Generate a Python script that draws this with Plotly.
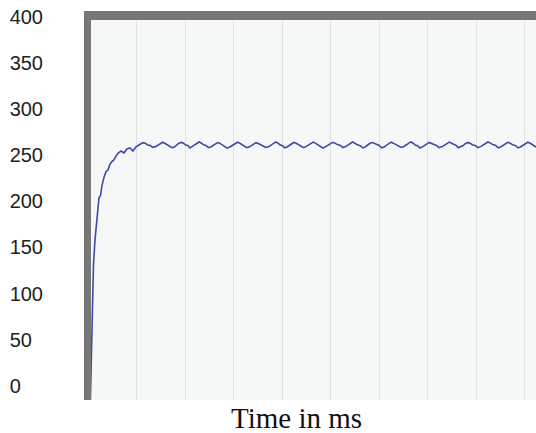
import plotly.graph_objects as go

# ---- data (time in ms, value) ----
rise_t = [0.5, 0.89, 1.13, 1.44, 1.79, 2.06, 2.27, 2.58, 2.88, 3.30, 3.71, 4.12, 4.53, 4.94,
          5.36, 5.77, 6.18, 6.80, 7.42, 8.03, 8.65, 9.27, 9.89, 10.5]
rise_v = [-15, 93, 131, 158, 180, 196, 204, 206, 217, 226, 232, 234, 240, 243,
          245, 249, 252, 254.5, 252.5, 256.7, 257.8, 254.5, 258.9, 261]

plateau_t = [11.3, 11.8, 12.3, 12.8, 13.3, 13.9, 14.4, 14.9,
             15.4, 15.9, 16.3, 16.8, 17.3, 17.8, 18.2, 18.7,
             19.2, 19.7, 20.1, 20.6, 21.0, 21.5, 21.9, 22.4,
             22.9, 23.4, 23.8, 24.3, 24.8, 25.3, 25.7, 26.2,
             26.7, 27.2, 27.7, 28.2, 28.7, 29.3, 29.8, 30.3,
             30.8, 31.3, 31.7, 32.2, 32.7, 33.2, 33.6, 34.1,
             34.6, 35.1, 35.6, 36.1, 36.6, 37.2, 37.7, 38.2,
             38.7, 39.2, 39.6, 40.1, 40.5, 41.0, 41.5, 42.0,
             42.4, 42.9, 43.4, 43.9, 44.4, 44.9, 45.4, 45.9,
             46.4, 46.9, 47.4, 47.9, 48.4, 48.9, 49.4, 49.9,
             50.4, 50.9, 51.4, 52.0, 52.5, 53.0, 53.5, 54.0,
             54.5, 55.0, 55.5, 56.1, 56.6, 57.1, 57.6, 58.1,
             58.6, 59.1, 59.5, 60.0, 60.5, 61.0, 61.4, 61.9,
             62.4, 62.9, 63.4, 64.0, 64.5, 65.0, 65.5, 66.0,
             66.5, 67.0, 67.4, 67.9, 68.4, 68.9, 69.3, 69.8,
             70.3, 70.8, 71.3, 71.8, 72.3, 72.9, 73.4, 73.9,
             74.4, 74.9, 75.4, 75.9, 76.3, 76.8, 77.3, 77.8,
             78.3, 78.8, 79.3, 79.8, 80.3, 80.9, 81.4, 81.9,
             82.4, 82.9, 83.4, 84.0, 84.5, 85.0, 85.5, 86.0,
             86.5, 87.0, 87.5, 88.1, 88.6, 89.1, 89.6, 90.1,
             90.6, 91.1, 91.6, 92.0, 92.4]
plateau_v = [263.5, 262.8, 261.0, 260.6, 258.5, 259.2, 261.0, 262.5,
             264.0, 262.6, 261.5, 260.2, 258.0, 258.8, 260.5, 262.9,
             263.8, 263.0, 261.0, 260.4, 257.8, 259.0, 260.8, 262.6,
             264.2, 262.9, 261.2, 260.5, 258.2, 258.9, 260.5, 262.4,
             263.6, 262.7, 261.0, 260.1, 257.6, 259.1, 260.8, 262.7,
             264.0, 262.9, 261.5, 260.4, 258.0, 258.7, 260.2, 262.3,
             263.5, 262.6, 261.2, 260.3, 258.3, 259.0, 260.7, 262.8,
             264.3, 262.8, 261.0, 260.2, 257.9, 258.8, 260.5, 262.5,
             263.7, 262.9, 261.3, 260.6, 258.1, 259.2, 260.9, 262.7,
             264.1, 262.7, 261.0, 260.1, 257.7, 258.9, 260.4, 262.4,
             263.9, 263.0, 261.4, 260.5, 258.2, 259.0, 260.6, 262.6,
             264.2, 262.8, 261.1, 260.3, 257.8, 258.8, 260.7, 262.8,
             263.6, 262.6, 261.2, 260.4, 258.0, 258.7, 260.3, 262.5,
             264.0, 263.0, 261.5, 260.6, 258.4, 259.1, 260.8, 262.7,
             264.3, 262.9, 261.0, 260.2, 257.7, 258.9, 260.5, 262.6,
             263.8, 262.7, 261.3, 260.5, 258.1, 259.0, 260.6, 262.4,
             264.1, 262.9, 261.2, 260.3, 257.9, 258.8, 260.4, 262.6,
             263.7, 262.6, 261.0, 260.4, 258.2, 259.2, 260.9, 262.8,
             264.2, 263.0, 261.4, 260.5, 258.0, 258.9, 260.5, 262.5,
             263.9, 262.8, 261.1, 260.3, 257.8, 258.8, 260.7, 262.6,
             264.0, 262.9, 261.2, 260.2, 258.5]

y_tick_vals = [0, 50, 100, 150, 200, 250, 300, 350, 400]
y_tick_text = ["0\u2007\u2007", "50\u2007", "100", "150", "200", "250", "300", "350", "400"]
x_grid_vals = [10, 20, 30, 40, 50, 60, 70, 80, 90]
x_title = "Time in ms"

t = rise_t + plateau_t
v = rise_v + plateau_v

fig = go.Figure()
fig.add_trace(go.Scatter(x=t, y=v, mode="lines",
                         line=dict(color="#3f49a8", width=1.6),
                         hoverinfo="skip", showlegend=False))

GRID = "#e1e3e3"
BORDER = "#777777"

fig.update_layout(
    width=536, height=433,
    margin=dict(l=84, r=0, t=11, b=33),
    paper_bgcolor="white",
    plot_bgcolor="#f6f8f8",
    xaxis=dict(range=[-0.82, 92.3], tickmode="array", tickvals=x_grid_vals,
               showgrid=True, gridcolor=GRID,
               gridwidth=1, zeroline=False, showline=False, showticklabels=False,
               ticks="", fixedrange=True),
    yaxis=dict(range=[-15.2, 406.1], tickvals=y_tick_vals, ticktext=y_tick_text,
               showgrid=False, zeroline=False, showline=False, ticks="",
               ticklabelstandoff=40, fixedrange=True,
               tickfont=dict(family="Liberation Sans, Arial", size=20, color="#222222")),
    yaxis2=dict(overlaying="y", range=[0.355, 8.198], tickmode="array",
                tickvals=[1, 2, 3, 4, 5, 6, 7], showgrid=True,
                gridcolor=GRID, gridwidth=1, zeroline=False, showticklabels=False,
                ticks="", side="left", fixedrange=True),
    shapes=[
        dict(type="rect", xref="paper", yref="paper", x0=0, x1=7/452, y0=0, y1=1,
             line=dict(width=0), fillcolor=BORDER, layer="above"),
        dict(type="rect", xref="paper", yref="paper", x0=0, x1=1, y0=1 - 9/389, y1=1,
             line=dict(width=0), fillcolor=BORDER, layer="above"),
    ],
    annotations=[
        dict(text=x_title, xref="paper", yref="paper", x=(296 - 84) / 452,
             y=-(418 - 400) / 389, xanchor="center", yanchor="middle", showarrow=False,
             font=dict(family="Liberation Serif, Times New Roman", size=29, color="#111111")),
    ],
)

fig.write_html("out.html", config={"displayModeBar": False},
               post_script="document.body.style.margin='0';")
